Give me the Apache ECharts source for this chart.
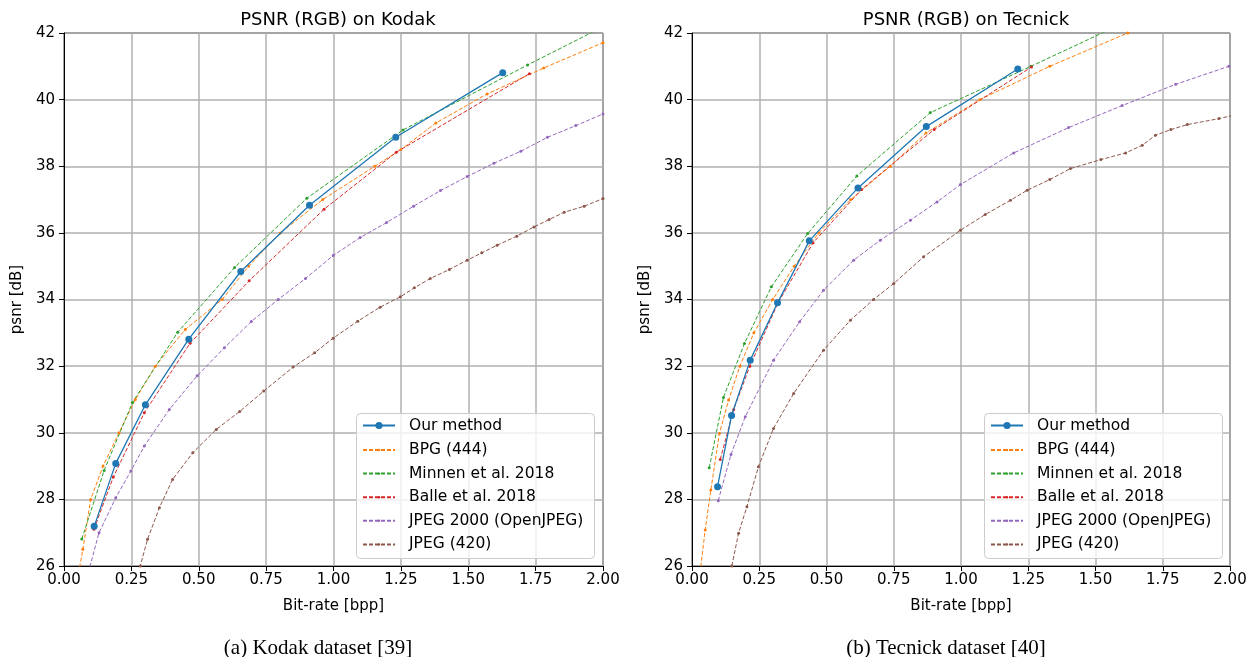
<!DOCTYPE html>
<html>
<head>
<meta charset="utf-8">
<script src="https://cdn.jsdelivr.net/npm/echarts@6/dist/echarts.min.js"></script>
<style>
  html, body { margin: 0; padding: 0; background: #fff; }
  #chart { width: 1260px; height: 657px; }
</style>
</head>
<body>
<div id="chart"></div>
<script>
// 系列名称
var seriesNames = ['Our method', 'BPG (444)', 'Minnen et al. 2018', 'Balle et al. 2018', 'JPEG 2000 (OpenJPEG)', 'JPEG (420)'];
var colors = ['#1f77b4', '#ff7f0e', '#2ca02c', '#d62728', '#9467bd', '#8c564b'];

// x 轴刻度 (bpp) / y 轴刻度 (dB)
var xTicks = [0, 0.25, 0.5, 0.75, 1.0, 1.25, 1.5, 1.75, 2.0];
var yTicks = [26, 28, 30, 32, 34, 36, 38, 40, 42];

// Kodak 数据 [bpp, psnr]
var kodakOurs = [[0.112, 27.19], [0.192, 29.08], [0.302, 30.84], [0.463, 32.81], [0.656, 34.84], [0.911, 36.83], [1.231, 38.87], [1.628, 40.81]];
var kodakBpg = [[0.05, 25.6], [0.07, 26.5], [0.099, 28.0], [0.145, 29.0], [0.204, 30.0], [0.265, 31.0], [0.339, 32.0], [0.45, 33.1], [0.587, 34.0], [0.685, 35.0], [0.803, 36.0], [0.96, 37.0], [1.153, 38.0], [1.25, 38.5], [1.38, 39.3], [1.57, 40.17], [1.78, 40.95], [2.0, 41.71], [2.2, 42.4]];
var kodakMinnen = [[0.066, 26.81], [0.149, 28.87], [0.254, 30.91], [0.422, 33.02], [0.633, 34.96], [0.901, 37.04], [1.258, 39.09], [1.72, 41.04], [2.15, 42.8]];
var kodakBalle = [[0.111, 27.1], [0.183, 28.67], [0.298, 30.6], [0.468, 32.69], [0.687, 34.56], [0.965, 36.71], [1.233, 38.42], [1.727, 40.78]];
var kodakJ2k = [[0.09, 25.8], [0.13, 27.0], [0.192, 28.05], [0.248, 28.85], [0.298, 29.6], [0.391, 30.7], [0.494, 31.71], [0.595, 32.55], [0.695, 33.34], [0.795, 34.0], [0.896, 34.63], [0.999, 35.32], [1.099, 35.86], [1.197, 36.31], [1.297, 36.8], [1.397, 37.27], [1.496, 37.69], [1.595, 38.09], [1.695, 38.45], [1.794, 38.87], [1.899, 39.22], [2.0, 39.57], [2.1, 39.9]];
var kodakJpeg = [[0.27, 25.6], [0.283, 26.0], [0.31, 26.8], [0.354, 27.75], [0.403, 28.6], [0.478, 29.4], [0.565, 30.1], [0.652, 30.64], [0.741, 31.25], [0.85, 31.97], [0.93, 32.4], [0.999, 32.84], [1.09, 33.35], [1.173, 33.77], [1.248, 34.08], [1.3, 34.35], [1.359, 34.63], [1.43, 34.9], [1.496, 35.18], [1.55, 35.4], [1.607, 35.63], [1.68, 35.9], [1.744, 36.18], [1.8, 36.4], [1.856, 36.62], [1.93, 36.8], [2.0, 37.03], [2.08, 37.3]];

// Tecnick 数据 [bpp, psnr]
var tecnickOurs = [[0.095, 28.38], [0.147, 30.52], [0.2165, 32.18], [0.318, 33.9], [0.436, 35.76], [0.617, 37.35], [0.871, 39.19], [1.211, 40.92]];
var tecnickBpg = [[0.03, 25.8], [0.049, 27.08], [0.07, 28.28], [0.102, 29.98], [0.136, 30.98], [0.178, 32.0], [0.23, 33.0], [0.3, 34.0], [0.38, 35.0], [0.471, 36.0], [0.59, 37.0], [0.737, 38.0], [0.87, 39.0], [1.07, 40.0], [1.33, 41.0], [1.62, 42.0], [1.95, 43.0]];
var tecnickMinnen = [[0.064, 28.95], [0.117, 31.06], [0.195, 32.68], [0.295, 34.38], [0.43, 35.98], [0.613, 37.71], [0.886, 39.61], [1.26, 41.0], [1.75, 42.85]];
var tecnickBalle = [[0.105, 29.2], [0.155, 30.7], [0.215, 32.0], [0.32, 33.9], [0.45, 35.7], [0.63, 37.3], [0.9, 39.1], [1.262, 40.98]];
var tecnickJ2k = [[0.0975, 27.96], [0.145, 29.35], [0.198, 30.48], [0.303, 32.18], [0.4, 33.33], [0.489, 34.28], [0.601, 35.18], [0.7, 35.78], [0.812, 36.38], [0.911, 36.93], [0.998, 37.45], [1.196, 38.4], [1.4, 39.16], [1.599, 39.82], [1.798, 40.46], [1.996, 41.0]];
var tecnickJpeg = [[0.13, 25.3], [0.148, 26.0], [0.173, 26.98], [0.204, 27.78], [0.247, 28.98], [0.303, 30.13], [0.378, 31.18], [0.489, 32.48], [0.589, 33.38], [0.675, 34.0], [0.75, 34.48], [0.861, 35.28], [0.998, 36.08], [1.09, 36.55], [1.184, 36.98], [1.246, 37.28], [1.33, 37.6], [1.407, 37.93], [1.52, 38.2], [1.612, 38.4], [1.674, 38.63], [1.723, 38.93], [1.78, 39.1], [1.841, 39.25], [1.959, 39.43], [2.05, 39.6]];

var kodakData = [kodakOurs, kodakBpg, kodakMinnen, kodakBalle, kodakJ2k, kodakJpeg];
var tecnickData = [tecnickOurs, tecnickBpg, tecnickMinnen, tecnickBalle, tecnickJ2k, tecnickJpeg];

var font = 'DejaVu Sans';
var gridLefts = [64, 692];

function makeX(idx) {
  return {
    gridIndex: idx, type: 'value',
    min: xTicks[0], max: xTicks[xTicks.length - 1], interval: 0.25,
    name: 'Bit-rate [bpp]', nameLocation: 'middle', nameGap: 33,
    nameTextStyle: { fontFamily: font, fontSize: 15, color: '#000' },
    axisLine: { show: true, lineStyle: { color: '#000', width: 1 } },
    axisTick: { show: true, length: 5, lineStyle: { color: '#000' } },
    axisLabel: { fontFamily: font, fontSize: 15, color: '#000', margin: 7,
      formatter: function (v) { return v.toFixed(2); } },
    splitLine: { show: true, lineStyle: { color: '#b0b0b0', width: 1.5 } }
  };
}
function makeY(idx) {
  return {
    gridIndex: idx, type: 'value',
    min: yTicks[0], max: yTicks[yTicks.length - 1], interval: 2,
    name: 'psnr [dB]', nameLocation: 'middle', nameGap: 39, nameRotate: 90,
    nameTextStyle: { fontFamily: font, fontSize: 15, color: '#000' },
    axisLine: { show: true, lineStyle: { color: '#000', width: 1 } },
    axisTick: { show: true, length: 5, lineStyle: { color: '#000' } },
    axisLabel: { fontFamily: font, fontSize: 15, color: '#000', margin: 9 },
    splitLine: { show: true, lineStyle: { color: '#b0b0b0', width: 1.5 } }
  };
}

function makeSeries(dataList, idx) {
  return dataList.map(function (d, i) {
    var ours = i === 0;
    return {
      name: seriesNames[i], type: 'line',
      xAxisIndex: idx, yAxisIndex: idx,
      data: d,
      color: colors[i],
      symbol: 'circle',
      symbolSize: ours ? 7 : 3,
      showAllSymbol: true,
      clip: true,
      lineStyle: { width: ours ? 1.3 : 1, type: ours ? 'solid' : [4, 2], color: colors[i] },
      itemStyle: { color: colors[i] },
      z: ours ? 2.5 : 2,
      animation: false
    };
  });
}

// 图例: "Our method" 一组 (大圆点), 其余基线一组 (小圆点)
var legendText = { fontFamily: font, fontSize: 15.5, color: '#000', padding: [0, 0, 0, 9] };
function makeLegends(idx) {
  var x = gridLefts[idx] + 298;
  return [
    { orient: 'vertical', left: x, top: 417.5, padding: 0,
      data: seriesNames.slice(0, 1), itemWidth: 32, itemHeight: 9, itemGap: 8,
      textStyle: legendText, z: 6 },
    { orient: 'vertical', left: x, top: 442, padding: 0,
      data: seriesNames.slice(1), itemWidth: 32, itemHeight: 3, itemGap: 7.6,
      textStyle: legendText, z: 6 }
  ];
}
function legendBox(idx) {
  return {
    type: 'rect', left: gridLefts[idx] + 292, top: 413, z: 5,
    shape: { width: 238, height: 145, r: 4 },
    style: { fill: 'rgba(255,255,255,0.8)', stroke: '#cccccc', lineWidth: 1 }
  };
}

var chart = echarts.init(document.getElementById('chart'), null, { renderer: 'canvas' });
var option = {
  animation: false,
  backgroundColor: '#fff',
  title: [
    { text: 'PSNR (RGB) on Kodak', left: 333, top: 6, textAlign: 'center',
      textStyle: { fontFamily: font, fontSize: 18, fontWeight: 'normal', color: '#000' } },
    { text: 'PSNR (RGB) on Tecnick', left: 961, top: 6, textAlign: 'center',
      textStyle: { fontFamily: font, fontSize: 18, fontWeight: 'normal', color: '#000' } },
    { text: '(a) Kodak dataset [39]', left: 313, top: 633, textAlign: 'center',
      textStyle: { fontFamily: 'Liberation Serif', fontSize: 21, fontWeight: 'normal', color: '#000' } },
    { text: '(b) Tecnick dataset [40]', left: 941, top: 633, textAlign: 'center',
      textStyle: { fontFamily: 'Liberation Serif', fontSize: 21, fontWeight: 'normal', color: '#000' } }
  ],
  grid: [
    { left: gridLefts[0], top: 33, width: 539, height: 533, show: true, borderColor: '#000', borderWidth: 1, containLabel: false },
    { left: gridLefts[1], top: 33, width: 538, height: 533, show: true, borderColor: '#000', borderWidth: 1, containLabel: false }
  ],
  xAxis: [makeX(0), makeX(1)],
  yAxis: [makeY(0), makeY(1)],
  legend: makeLegends(0).concat(makeLegends(1)),
  graphic: [legendBox(0), legendBox(1)],
  series: makeSeries(kodakData, 0).concat(makeSeries(tecnickData, 1))
};
chart.setOption(option);
</script>
</body>
</html>
